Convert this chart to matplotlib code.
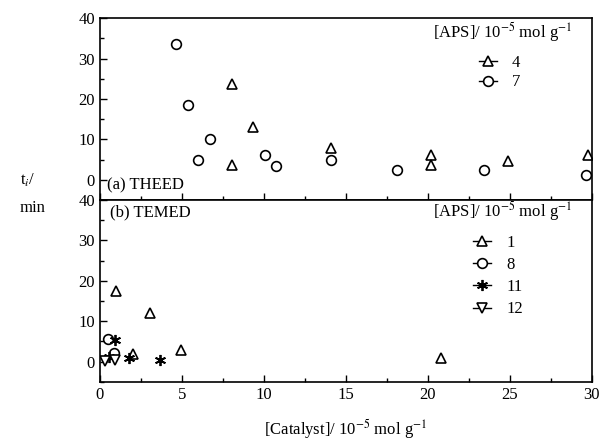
import matplotlib.pyplot as plt
from matplotlib.ticker import MultipleLocator
from matplotlib.lines import Line2D

plt.rcParams["font.family"] = ["Liberation Serif", "DejaVu Serif"]
plt.rcParams["mathtext.fontset"] = "stix"

## Data
# (a) THEED, [APS] = 4 and 7
theed_4_x = [8.05, 9.35, 8.05, 14.1, 20.2, 20.2, 24.9, 29.8]
theed_4_y = [23.8, 13.1, 3.6, 7.9, 6.1, 3.7, 4.6, 6.2]
theed_7_x = [4.65, 5.35, 6.0, 6.7, 10.05, 10.75, 14.1, 18.1, 23.4, 29.65]
theed_7_y = [33.5, 18.5, 4.8, 10.2, 6.1, 3.3, 5.0, 2.4, 2.4, 1.3]

# (b) TEMED, [APS] = 1, 8, 11, 12
temed_1_x = [1.0, 3.05, 4.95, 2.0, 20.8]
temed_1_y = [17.4, 12.0, 3.0, 2.0, 0.9]
temed_8_x = [0.5, 0.85]
temed_8_y = [5.7, 2.1]
temed_11_x = [0.9, 0.55, 1.75, 3.65]
temed_11_y = [5.3, 1.2, 0.9, 0.4]
temed_12_x = [0.3, 0.9]
temed_12_y = [0.1, 0.5]

legend_title = "[APS]/ 10$^{-5}$ mol g$^{-1}$"

fig = plt.figure(figsize=(6.02, 4.41), dpi=100)
ax_a = fig.add_axes([0.166, 0.5465, 0.817, 0.4125])
ax_b = fig.add_axes([0.166, 0.134, 0.817, 0.4125], sharex=ax_a)

mk = dict(linestyle="none", mfc="white", mec="black", mew=1.2, ms=7)

ax_a.plot(theed_4_x, theed_4_y, marker="^", label="4", **mk)
ax_a.plot(theed_7_x, theed_7_y, marker="o", label="7", **mk)

ax_b.plot(temed_1_x, temed_1_y, marker="^", label="1", **mk)
ax_b.plot(temed_8_x, temed_8_y, marker="o", label="8", **mk)
ax_b.plot(temed_11_x, temed_11_y, marker=(6, 2, 0), label="11",
          linestyle="none", color="black", mew=1.3, ms=8)
ax_b.plot(temed_12_x, temed_12_y, marker="v", label="12", **mk)

for ax in (ax_a, ax_b):
    ax.set_xlim(0, 30)
    ax.set_ylim(-5, 40)
    ax.set_yticks([0, 10, 20, 30, 40])
    ax.yaxis.set_minor_locator(MultipleLocator(5))
    ax.xaxis.set_major_locator(MultipleLocator(5))
    ax.xaxis.set_minor_locator(MultipleLocator(2.5))
    ax.tick_params(which="both", direction="in", labelsize=12, width=1)
    ax.tick_params(which="major", length=5)
    ax.tick_params(which="minor", length=3)
    for s in ax.spines.values():
        s.set_linewidth(1.2)

ax_a.tick_params(axis="x", labelbottom=False)
ax_b.set_xlabel("[Catalyst]/ 10$^{-5}$ mol g$^{-1}$", fontsize=12, labelpad=10)

ax_a.text(0.014, 0.035, "(a) THEED", transform=ax_a.transAxes, fontsize=12,
          va="bottom", ha="left")
ax_b.text(0.02, 0.975, "(b) TEMED", transform=ax_b.transAxes, fontsize=12,
          va="top", ha="left")

fig.text(0.033, 0.56, "t$_i$/\nmin", fontsize=12, va="center", ha="left",
         linespacing=1.9)


def make_legend(ax, title_y, anchor, spacing):
    ax.text(0.96, title_y, legend_title, transform=ax.transAxes, fontsize=12,
            ha="right", va="center")
    handles, labels = ax.get_legend_handles_labels()
    hs = []
    for h in handles:
        hs.append(Line2D([], [], color="black", lw=1, marker=h.get_marker(),
                         mfc=h.get_mfc(), mec="black", mew=h.get_mew(),
                         ms=h.get_markersize()))
    return ax.legend(hs, labels, loc="upper left", bbox_to_anchor=anchor,
                     frameon=False, fontsize=12, handlelength=1.1,
                     handletextpad=0.9, labelspacing=spacing, borderpad=0,
                     borderaxespad=0)


make_legend(ax_a, 0.923, (0.770, 0.797), 0.2)
make_legend(ax_b, 0.938, (0.758, 0.808), 0.37)

fig.savefig("out.png", dpi=100)
